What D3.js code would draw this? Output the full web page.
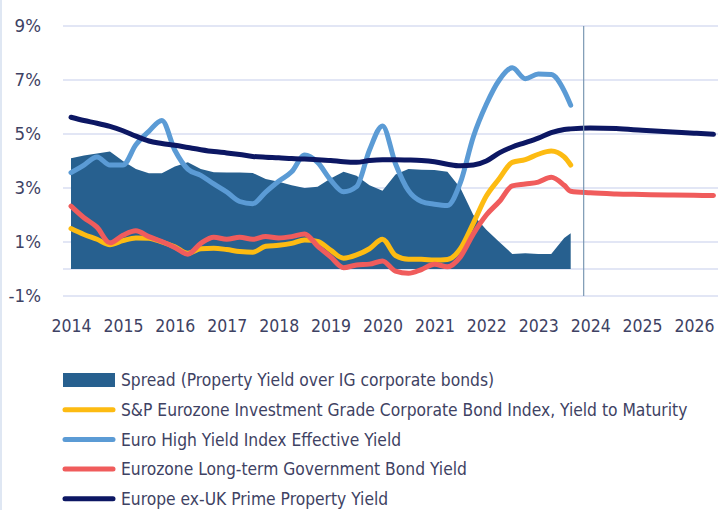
<!DOCTYPE html>
<html lang="en">
  <head>
    <meta charset="utf-8" />
    <title>Yields and spread</title>
    <style>
      body { margin: 0; background: #fff; }
      svg text { font-family: "Liberation Sans Narrow", "DejaVu Sans Condensed", sans-serif; fill: #3e4263; }
    </style>
  </head>
  <body>
    <svg id="chart" width="724" height="510"></svg>
    <script src="https://d3js.org/d3.v7.min.js"></script>
    <script>
      // quarterly observations (decimal years), last point is Aug 2023
      const dates = [
        2014, 2014.25, 2014.5, 2014.75, 2015, 2015.25, 2015.5, 2015.75,
        2016, 2016.25, 2016.5, 2016.75, 2017, 2017.25, 2017.5, 2017.75,
        2018, 2018.25, 2018.5, 2018.75, 2019, 2019.25, 2019.5, 2019.75,
        2020, 2020.25, 2020.5, 2020.75, 2021, 2021.25, 2021.5, 2021.75,
        2022, 2022.25, 2022.5, 2022.75, 2023, 2023.25, 2023.5, 2023.625
      ];
      const forecastDates = [2024, 2024.5, 2025, 2025.5, 2026, 2026.375];
      const forecastStart = 2023.875;

      const spread = [
        4.1, 4.2, 4.28, 4.35, 4.0, 3.7, 3.55, 3.55,
        3.8, 3.95, 3.7, 3.58, 3.57, 3.57, 3.56, 3.33,
        3.23, 3.1, 3.0, 3.05, 3.35, 3.6, 3.45, 3.1,
        2.9, 3.5, 3.7, 3.68, 3.67, 3.6, 3.0, 2.0,
        1.45, 1.0, 0.56, 0.58, 0.56, 0.56, 1.15, 1.32
      ];
      const igYield = [
        1.5, 1.28, 1.1, 0.9, 1.05, 1.15, 1.14, 1.0,
        0.82, 0.58, 0.75, 0.77, 0.72, 0.65, 0.62, 0.84,
        0.88, 0.95, 1.07, 1.02, 0.7, 0.4, 0.52, 0.75,
        1.1, 0.5, 0.36, 0.36, 0.33, 0.35, 0.75, 1.7,
        2.7, 3.35, 3.95, 4.05, 4.25, 4.37, 4.15, 3.85
      ];
      const hyYield = [
        3.57, 3.85, 4.15, 3.85, 3.85, 4.6, 5.1, 5.5,
        4.4, 3.7, 3.47, 3.15, 2.85, 2.5, 2.42, 2.85,
        3.25, 3.6, 4.22, 3.95, 3.3, 2.86, 3.05, 4.41,
        5.3, 3.9, 2.9, 2.5, 2.4, 2.35, 3.2, 4.9,
        6.1, 7.0, 7.45, 7.05, 7.22, 7.2, 6.6, 6.07
      ];
      const govYield = [
        2.33, 1.9, 1.55, 0.97, 1.25, 1.42, 1.2, 1.02,
        0.8, 0.55, 0.95, 1.18, 1.1, 1.18, 1.1, 1.2,
        1.15, 1.2, 1.3, 0.85, 0.45, 0.05, 0.15, 0.18,
        0.3, -0.08, -0.16, -0.02, 0.18, 0.08, 0.45, 1.3,
        2.0, 2.5, 3.08, 3.15, 3.22, 3.4, 3.1, 2.88
      ];
      const govForecast = [2.82, 2.78, 2.76, 2.74, 2.73, 2.72];
      const primeYield = [
        5.62, 5.5, 5.4, 5.28, 5.12, 4.92, 4.74, 4.65,
        4.58, 4.5, 4.42, 4.35, 4.3, 4.24, 4.17, 4.14,
        4.12, 4.09, 4.07, 4.05, 4.02, 3.97, 3.95, 4.02,
        4.05, 4.05, 4.04, 4.02, 3.97, 3.88, 3.82, 3.85,
        4.0, 4.3, 4.52, 4.68, 4.85, 5.05, 5.17, 5.19
      ];
      const primeForecast = [5.22, 5.2, 5.14, 5.08, 5.03, 4.99];

      const yearTicks = d3.range(2014, 2027);
      const yTicks = [-1, 1, 3, 5, 7, 9];

      const legendNames = [
        "Spread (Property Yield over IG corporate bonds)",
        "S&P Eurozone Investment Grade Corporate Bond Index, Yield to Maturity",
        "Euro High Yield Index Effective Yield",
        "Eurozone Long-term Government Bond Yield",
        "Europe ex-UK Prime Property Yield"
      ];
      const colors = ["#27608f", "#fdbb12", "#5b9bd5", "#f05c5c", "#0c1763"];

      const svg = d3.select("#chart");

      var x = d3.scaleLinear().domain([2014, 2026]).range([71, 694]);
      var y = d3.scaleLinear().domain([-1, 9]).range([296, 26]);

      // left frame edge
      svg.append("line")
        .attr("x1", 1).attr("x2", 1).attr("y1", 0).attr("y2", 510)
        .attr("stroke", "#dfe7f3").attr("stroke-width", 2);

      // gridlines
      svg.append("g")
        .selectAll("line")
        .data(yTicks.concat([0]))
        .join("line")
        .attr("x1", 63).attr("x2", 718)
        .attr("y1", (d) => y(d)).attr("y2", (d) => y(d))
        .attr("stroke", "#d8def2")
        .attr("stroke-width", 1.5);

      // y axis labels
      var yAxis = svg.append("g")
        .attr("transform", "translate(47,0)")
        .call(d3.axisLeft(y).tickValues(yTicks).tickSize(0).tickPadding(6).tickFormat((d) => d + "%"));
      yAxis.select(".domain").remove();
      yAxis.selectAll("text").style("font-size", "18.5px").attr("fill", "#3e4263");

      // x axis labels
      var xAxis = svg.append("g")
        .attr("transform", "translate(0,317)")
        .call(d3.axisBottom(x).tickValues(yearTicks).tickSize(0).tickFormat(d3.format("d")));
      xAxis.select(".domain").remove();
      xAxis.selectAll("text").style("font-size", "17.5px").attr("fill", "#3e4263");

      // spread area
      const spreadData = dates.map((d, i) => [d, spread[i]]);
      svg.append("path")
        .datum(spreadData)
        .attr("fill", colors[0])
        .attr("d", d3.area().x((d) => x(d[0])).y0(y(0)).y1((d) => y(d[1])));

      function series(vals, fDates, fVals) {
        var pts = dates.map((d, i) => [d, vals[i]]);
        if (fDates) pts = pts.concat(fDates.map((d, i) => [d, fVals[i]]));
        return pts;
      }

      const lineGen = d3.line()
        .x((d) => x(d[0]))
        .y((d) => y(d[1]))
        .curve(d3.curveMonotoneX);

      const lines = [
        series(igYield),
        series(hyYield),
        series(govYield, forecastDates, govForecast),
        series(primeYield, forecastDates, primeForecast)
      ];

      lines.forEach(function (pts, i) {
        svg.append("path")
          .datum(pts)
          .attr("fill", "none")
          .attr("stroke", colors[i + 1])
          .attr("stroke-width", 5)
          .attr("stroke-linecap", "round")
          .attr("stroke-linejoin", "round")
          .attr("d", lineGen);
      });

      // forecast marker
      svg.append("line")
        .attr("x1", x(forecastStart)).attr("x2", x(forecastStart))
        .attr("y1", y(9)).attr("y2", y(-1))
        .attr("stroke", "#7b98b3")
        .attr("stroke-width", 1.2);

      // legend
      var legend = svg.append("g");
      legendNames.forEach(function (name, i) {
        var ly = 380 + i * 29.7;
        if (i === 0) {
          legend.append("rect")
            .attr("x", 63).attr("y", ly - 7).attr("width", 52).attr("height", 14)
            .attr("fill", colors[0]);
        } else {
          legend.append("line")
            .attr("x1", 65).attr("x2", 113).attr("y1", ly).attr("y2", ly)
            .attr("stroke", colors[i]).attr("stroke-width", 5)
            .attr("stroke-linecap", "round");
        }
        legend.append("text")
          .attr("x", 121).attr("y", ly)
          .attr("dy", "0.36em")
          .style("font-size", "17.3px")
          .text(name);
      });
    </script>
  </body>
</html>
